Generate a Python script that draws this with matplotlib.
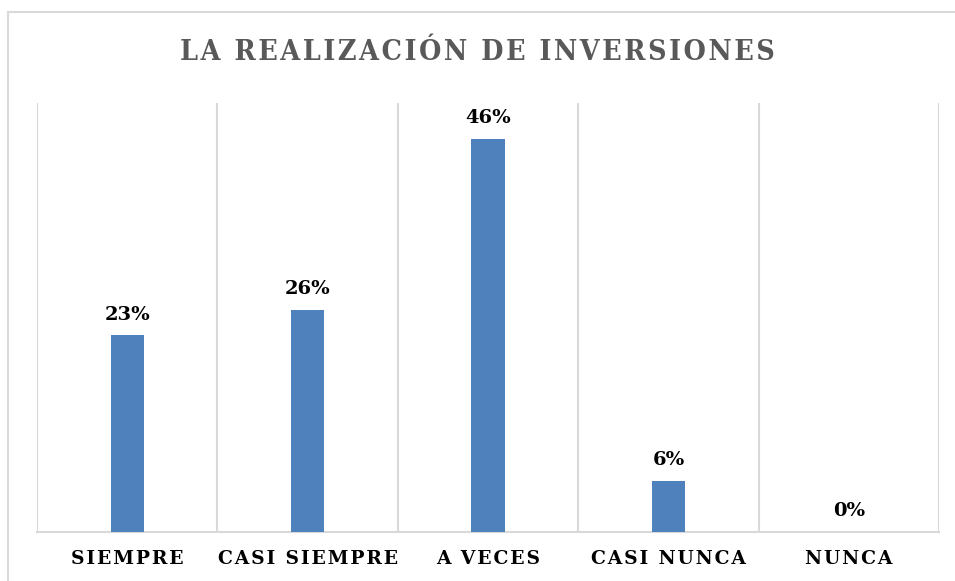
import matplotlib.pyplot as plt
from matplotlib import patches

categories = ['SIEMPRE', 'CASI SIEMPRE', 'A VECES', 'CASI NUNCA', 'NUNCA']
values = [23, 26, 46, 6, 0]
title = 'LA REALIZACIÓN DE INVERSIONES'

bar_color = '#4F81BD'
grid_color = '#D9D9D9'
font = 'DejaVu Serif'


def spaced(s, sep='\u200a'):
    # fake letter spacing, like the Excel chart
    return sep.join(s)


fig = plt.figure(figsize=(9.55, 5.81), dpi=100)
ax = fig.add_axes([37/955, 49/581, 902/955, 429/581])

x = list(range(len(categories)))
ax.bar(x, values, width=0.183, color=bar_color, zorder=3)
for xi, v in zip(x, values):
    ax.annotate(f'{v}%', (xi, v), xytext=(0, 8.5), textcoords='offset points',
                ha='center', va='bottom', fontsize=14, fontweight='bold',
                family=font, color='black')

ax.set_xlim(-0.5, len(categories) - 0.5)
ax.set_ylim(0, 50.2)
for b in [i - 0.5 for i in range(len(categories) + 1)]:
    ax.axvline(b, color=grid_color, lw=1.5, zorder=1)

for s in ['top', 'right', 'left']:
    ax.spines[s].set_visible(False)
ax.spines['bottom'].set_color(grid_color)
ax.spines['bottom'].set_linewidth(1.5)
ax.set_yticks([])
ax.set_xticks(x)
ax.set_xticklabels([spaced(c) for c in categories], family=font,
                   fontweight='bold', fontsize=13.5)
ax.tick_params(axis='x', length=0, pad=13)

fig.text(0.5, 1 - 52/581, spaced(title), ha='center', va='center',
         fontsize=20.5, fontweight='bold', family=font, fontstretch='condensed',
         color='#595959')

# outer chart border (cut off at right and bottom in the original)
fig.patches.append(patches.Rectangle((8/955, -0.1), 1.2, 1.1 - 12/581,
                                     transform=fig.transFigure, fill=False,
                                     edgecolor=grid_color, lw=1.5))

plt.savefig('out.png', dpi=100)
